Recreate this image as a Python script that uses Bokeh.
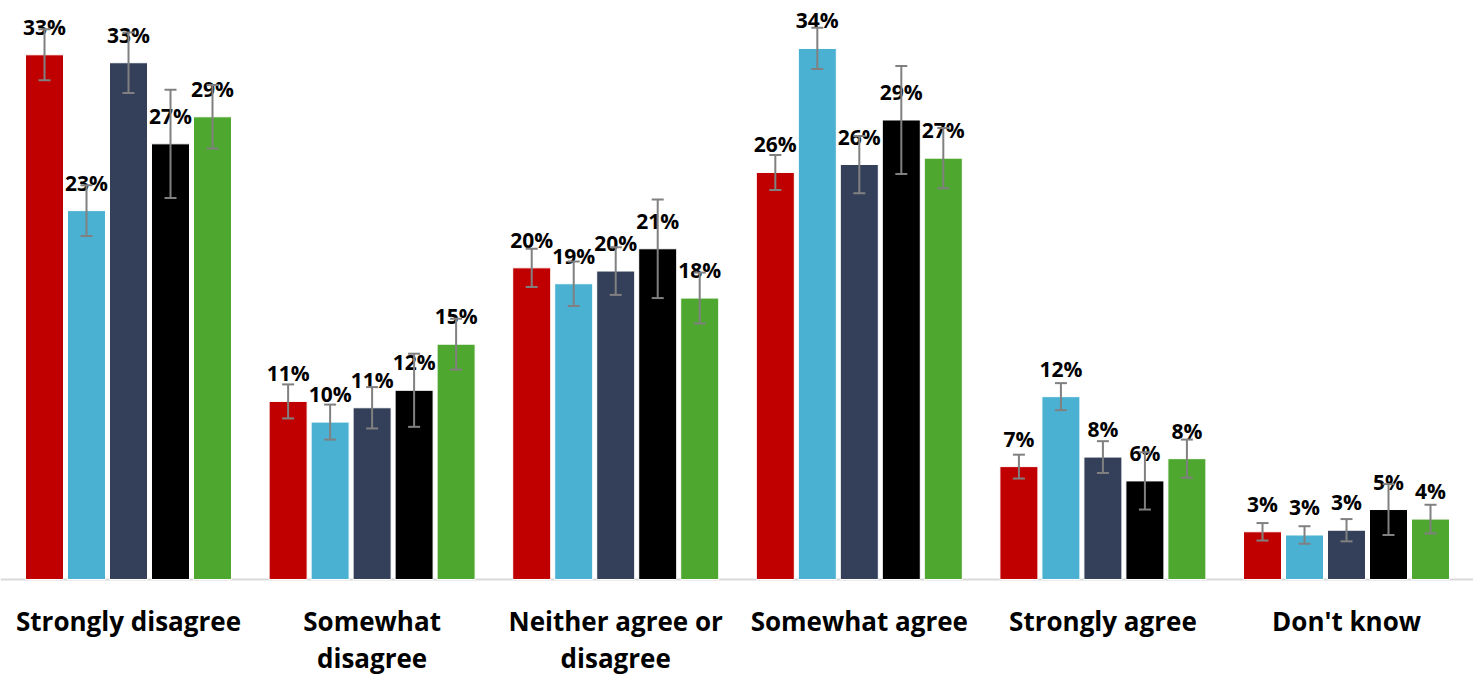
import numpy as np
from bokeh.plotting import figure
from bokeh.models import ColumnDataSource, Whisker, TeeHead, Span
from bokeh.core.properties import value
from bokeh.embed import file_html
from bokeh.resources import INLINE

categories = ["Strongly disagree", "Somewhat\ndisagree", "Neither agree or\ndisagree",
              "Somewhat agree", "Strongly agree", "Don't know"]

series_names = ["Series 1", "Series 2", "Series 3", "Series 4", "Series 5"]
series_colors = ["#C00000", "#4BB1D3", "#344059", "#000000", "#4EA72E"]

series_1 = [33.0, 11.2, 19.6, 25.6, 7.1, 3.0]
series_2 = [23.2, 9.9, 18.6, 33.4, 11.5, 2.8]
series_3 = [32.5, 10.8, 19.4, 26.1, 7.7, 3.1]
series_4 = [27.4, 11.9, 20.8, 28.9, 6.2, 4.4]
series_5 = [29.1, 14.8, 17.7, 26.5, 7.6, 3.8]

labels_1 = ["33%", "11%", "20%", "26%", "7%", "3%"]
labels_2 = ["23%", "10%", "19%", "34%", "12%", "3%"]
labels_3 = ["33%", "11%", "20%", "26%", "8%", "3%"]
labels_4 = ["27%", "12%", "21%", "29%", "6%", "5%"]
labels_5 = ["29%", "15%", "18%", "27%", "8%", "4%"]

margin_1 = [1.6, 1.07, 1.2, 1.1, 0.75, 0.55]
margin_2 = [1.6, 1.1, 1.4, 1.3, 0.85, 0.55]
margin_3 = [1.9, 1.3, 1.5, 1.8, 1.0, 0.7]
margin_4 = [3.4, 2.3, 3.1, 3.4, 1.8, 1.6]
margin_5 = [2.0, 1.6, 1.6, 1.9, 1.2, 0.9]

all_values = [series_1, series_2, series_3, series_4, series_5]
all_labels = [labels_1, labels_2, labels_3, labels_4, labels_5]
all_margins = [margin_1, margin_2, margin_3, margin_4, margin_5]

p = figure(width=1473, height=675, output_backend="svg", toolbar_location=None,
           x_range=(-0.0255, 6.0213), y_range=(-6.038, 36.415),
           x_axis_location=None, y_axis_location=None,
           min_border=0, outline_line_color=None)
p.xgrid.visible = False
p.ygrid.visible = False

font = "Open Sans"
step = 0.1724
bw = 0.156
centers = np.arange(len(categories)) + 0.5

base = Span(location=0, dimension="width", line_color="#d9d9d9", line_width=2,
            level="underlay")
p.add_layout(base)

for j in range(5):
    xs = centers + (j - 2) * step
    vals = np.array(all_values[j])
    m = np.array(all_margins[j])
    src = ColumnDataSource(dict(x=xs, top=vals, upper=vals + m, lower=vals - m))
    p.vbar(x="x", top="top", width=bw, bottom=0, source=src,
           fill_color=series_colors[j], line_color="white", line_width=1)
    w = Whisker(source=src, base="x", upper="upper", lower="lower",
                line_color="#808080", line_width=2, level="overlay",
                upper_head=TeeHead(size=12, line_color="#808080", line_width=2),
                lower_head=TeeHead(size=12, line_color="#808080", line_width=2))
    p.add_layout(w)

for j in range(5):
    xs = centers + (j - 2) * step
    src = ColumnDataSource(dict(x=xs, y=all_values[j], label=all_labels[j]))
    p.text(x="x", y="y", text="label", source=src, text_align="center",
           text_baseline="alphabetic", y_offset=-28, text_font=value(font),
           text_font_style="bold", text_font_size="21px", text_color="black",
           level="overlay")

line1 = [c.split("\n")[0] for c in categories]
line2 = [c.split("\n")[1] if "\n" in c else "" for c in categories]
zeros = np.zeros(len(categories))

for txt, off in ((line1, 42), (line2, 79)):
    csrc = ColumnDataSource(dict(x=centers, y=zeros, text=txt))
    p.text(x="x", y="y", text="text", source=csrc, text_align="center",
           text_baseline="alphabetic", y_offset=off, text_font=value(font),
           text_font_style="bold", text_font_size="26px", text_color="black")

open("out.html", "w").write(file_html(p, INLINE))
